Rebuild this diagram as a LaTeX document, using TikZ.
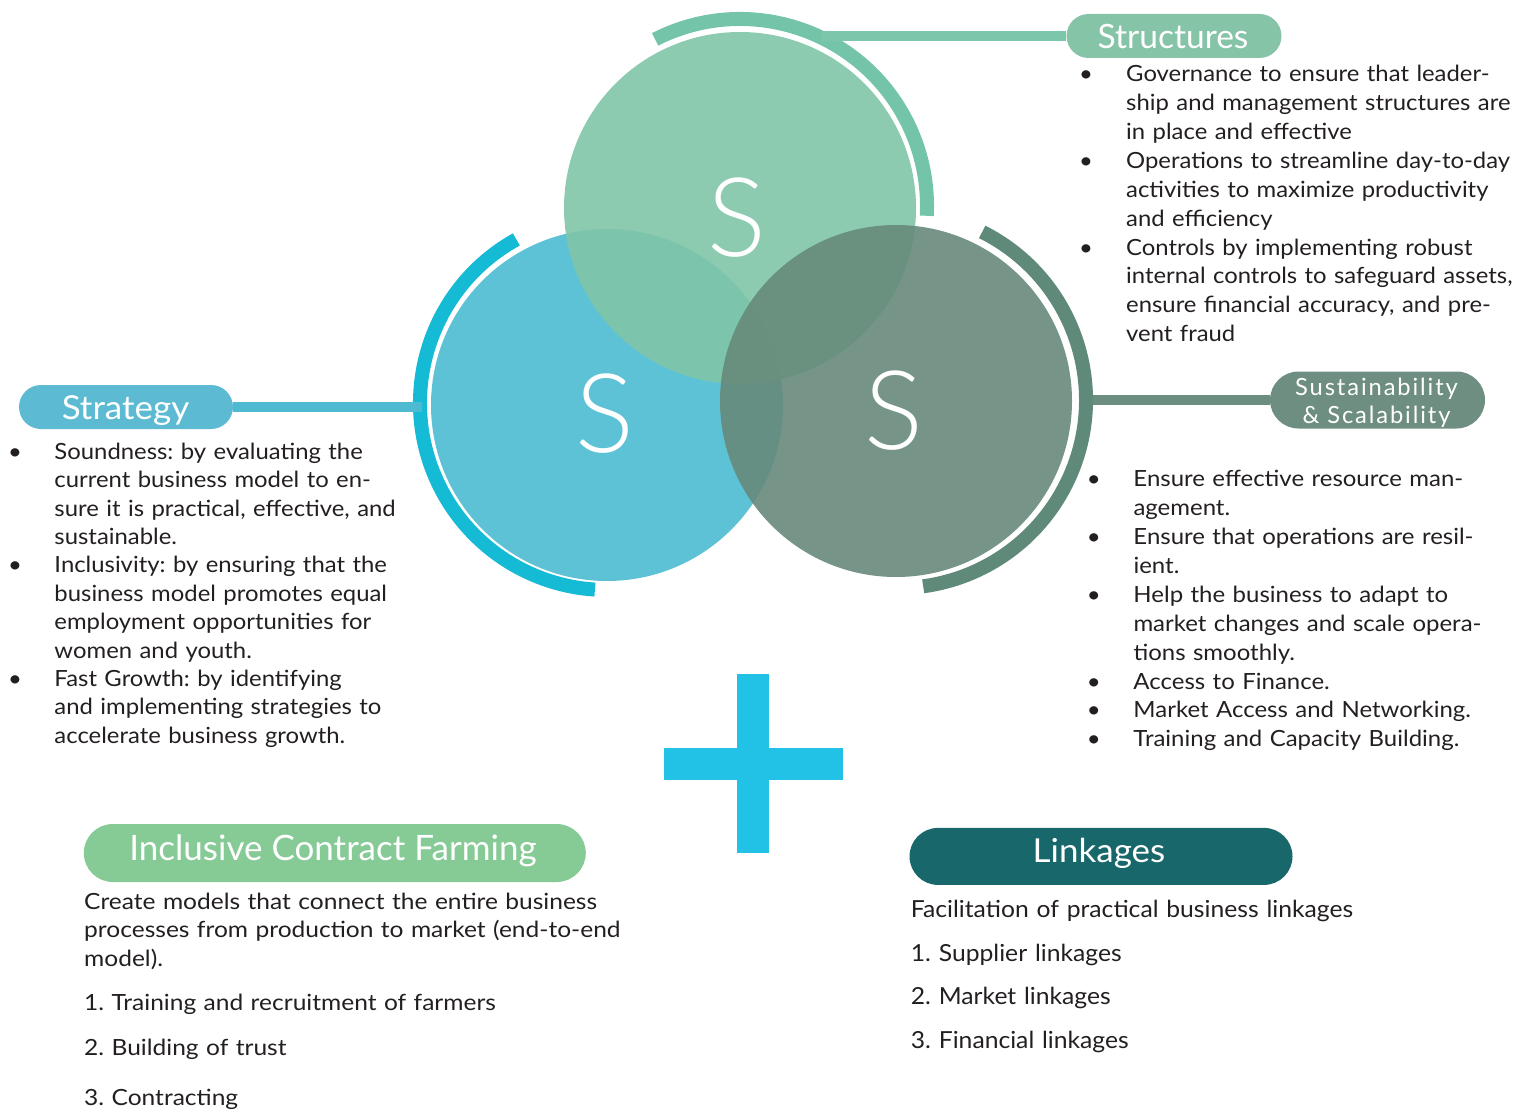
\documentclass[tikz,border=0pt]{standalone}
\usepackage{fontspec}
\setmainfont{Lato}
\newfontfamily\lightfont{Lato Light}
\newfontfamily\blurbfont{Lato}[FakeStretch=1.07]
\newfontfamily\susfont{Lato}[FakeStretch=1.075]
\newfontfamily\icffont{Lato}[FakeStretch=1.10]
\newfontfamily\lnkfont{Lato}[FakeStretch=1.05]
\newfontfamily\pillwide{Lato}[FakeStretch=1.06]
\frenchspacing
\usetikzlibrary{calc}
\definecolor{ctopfill}{HTML}{81C5A8}
\definecolor{cleftfill}{HTML}{5DC2D6}
\definecolor{crightfill}{HTML}{678A7B}
\definecolor{topark}{HTML}{74C4A9}
\definecolor{leftark}{HTML}{15BAD4}
\definecolor{rightark}{HTML}{5F8A7A}
\definecolor{structpill}{HTML}{86C4A8}
\definecolor{stratpill}{HTML}{5CBAD2}
\definecolor{suspill}{HTML}{6D8E80}
\definecolor{icfpill}{HTML}{86CA96}
\definecolor{linkpill}{HTML}{18676A}
\definecolor{plusc}{HTML}{22C2E6}
\definecolor{txt}{HTML}{231F20}
\definecolor{structline}{HTML}{7CC6AB}
\definecolor{stratline}{HTML}{4DBAD1}
\definecolor{susline}{HTML}{6B8E80}
\newlength\bulw
\newcommand\bitem{\makebox[\bulw][l]{\textbullet}}
\newcommand\bind{\hspace*{\bulw}}
\tikzset{
  bigcircle/.style={circle, inner sep=0pt, minimum size=352pt, draw=none},
  ringarc/.style={line width=14pt},
  linkline/.style={line width=10pt},
  pill/.style={rectangle, inner sep=0pt, draw=none},
  pilltext/.style={anchor=base, inner sep=0pt, text=white},
  sletter/.style={inner sep=0pt, text=white, font=\lightfont\fontsize{110}{110}\selectfont},
  blurb/.style={anchor=base west, inner sep=0pt, text=txt, align=left, text width=600pt},
}
\begin{document}
\begin{tikzpicture}[x=1pt,y=-1pt]
\useasboundingbox (0,0) rectangle (1523,1110);
% circles
\node[bigcircle, fill=cleftfill] (cleft) at (607,405) {};
\node[bigcircle, fill=ctopfill, fill opacity=0.9] (ctop) at (740,208) {};
\node[bigcircle, fill=crightfill, fill opacity=0.9] (cright) at (896,401) {};
% arc centres
\coordinate (atop) at (740,206);
\coordinate (aleft) at (607,403);
\coordinate (aright) at (898,400);
% outer arcs
\draw[ringarc, topark] ($(atop)+(-117:187)$) arc[start angle=-117, end angle=3, radius=187];
\draw[ringarc, leftark] ($(aleft)+(-119:187)$) arc[start angle=-119, end angle=-266.3, radius=187];
\draw[ringarc, rightark] ($(aright)+(-63.4:188)$) arc[start angle=-63.4, end angle=82.3, radius=188];
% S letters
\node[sletter] (stop) at (737,218) {S};
\node[sletter] (sleft) at (605,414) {S};
\node[sletter] (sright) at (894,411) {S};
% pills
\node[pill, fill=structpill, minimum width=215pt, minimum height=44pt, rounded corners=22pt] (structures) at (1174,36) {};
\node[pill, fill=stratpill, minimum width=214pt, minimum height=44pt, rounded corners=22pt] (strategy) at (126,407) {};
\node[pill, fill=suspill, minimum width=215pt, minimum height=57pt, rounded corners=28.5pt] (sustain) at (1377.5,400) {};
\node[pill, fill=icfpill, minimum width=502pt, minimum height=58pt, rounded corners=29pt] (icf) at (334.8,853) {};
\node[pill, fill=linkpill, minimum width=383pt, minimum height=57pt, rounded corners=28.5pt] (linkages) at (1101,856.4) {};
% connectors
\coordinate (structend) at (822,36);
\coordinate (stratend) at (421.7,407);
\coordinate (susend) at (1093,400);
\draw[linkline, structline] (structend) -- (structures.west);
\draw[linkline, stratline] (strategy.east) -- (stratend);
\draw[linkline, susline] (susend) -- (sustain.west);
% pill texts
\node[pilltext, font=\fontsize{33.5}{36}\selectfont] (structurestxt) at (1173,49) {Structures};
\node[pilltext, font=\pillwide\fontsize{33}{36}\selectfont] (strategytxt) at (125.5,419) {Strategy};
\node[pilltext, font=\fontsize{23.7}{28}\selectfont\addfontfeature{LetterSpace=8}, text width=215pt, align=center] (sustaintxt) at (1376.5,395) {Sustainability\\\& Scalability};
\node[pilltext, font=\fontsize{35}{38}\selectfont] (icftxt) at (333,860) {Inclusive Contract Farming};
\node[pilltext, font=\pillwide\fontsize{33}{36}\selectfont] (linktxt) at (1099,862.7) {Linkages};
% plus sign
\fill[plusc] (737,674) rectangle (769,853);
\fill[plusc] (664,748) rectangle (843,780);
% text blocks
\node[blurb, font=\blurbfont\fontsize{22.3}{28.9}\selectfont] (structlist) at (1079,81.7) {\setlength\bulw{47pt}%
\bitem Governance to ensure that leader-\\
\bind ship and management structures are\\
\bind in place and effective\\
\bitem Operations to streamline day-to-day\\
\bind activities to maximize productivity\\
\bind and efficiency\\
\bitem Controls by implementing robust\\
\bind internal controls to safeguard assets,\\
\bind ensure financial accuracy, and pre-\\
\bind vent fraud};
\node[blurb, font=\blurbfont\fontsize{22.3}{28.4}\selectfont] (stratlist) at (8,459.3) {\setlength\bulw{46.3pt}%
\bitem Soundness: by evaluating the\\
\bind current business model to en-\\
\bind sure it is practical, effective, and\\
\bind sustainable.\\
\bitem Inclusivity: by ensuring that the\\
\bind business model promotes equal\\
\bind employment opportunities for\\
\bind women and youth.\\
\bitem Fast Growth: by identifying\\
\bind and implementing strategies to\\
\bind accelerate business growth.};
\node[blurb, font=\susfont\fontsize{22.3}{28.9}\selectfont] (suslist) at (1086.7,486.7) {\setlength\bulw{46.6pt}%
\bitem Ensure effective resource man-\\
\bind agement.\\
\bitem Ensure that operations are resil-\\
\bind ient.\\
\bitem Help the business to adapt to\\
\bind market changes and scale opera-\\
\bind tions smoothly.\\
\bitem Access to Finance.\\
\bitem Market Access and Networking.\\
\bitem Training and Capacity Building.};
\node[blurb, font=\icffont\fontsize{22.3}{28.5}\selectfont] (icfpara) at (84,909) {Create models that connect the entire business\\
processes from production to market (end-to-end\\
model).};
\node[blurb, font=\icffont\fontsize{22.3}{28.5}\selectfont] (icf1) at (84,1010.7) {1. Training and recruitment of farmers};
\node[blurb, font=\icffont\fontsize{22.3}{28.5}\selectfont] (icf2) at (84,1055) {2. Building of trust};
\node[blurb, font=\icffont\fontsize{22.3}{28.5}\selectfont] (icf3) at (84,1105) {3. Contracting};
\node[blurb, font=\lnkfont\fontsize{23.5}{28.5}\selectfont] (link0) at (910.7,917.3) {Facilitation of practical business linkages};
\node[blurb, font=\lnkfont\fontsize{23.5}{28.5}\selectfont] (link1) at (910.7,961.7) {1. Supplier linkages};
\node[blurb, font=\lnkfont\fontsize{23.5}{28.5}\selectfont] (link2) at (910.7,1004.3) {2. Market linkages};
\node[blurb, font=\lnkfont\fontsize{23.5}{28.5}\selectfont] (link3) at (910.7,1048.3) {3. Financial linkages};
\end{tikzpicture}
\end{document}
